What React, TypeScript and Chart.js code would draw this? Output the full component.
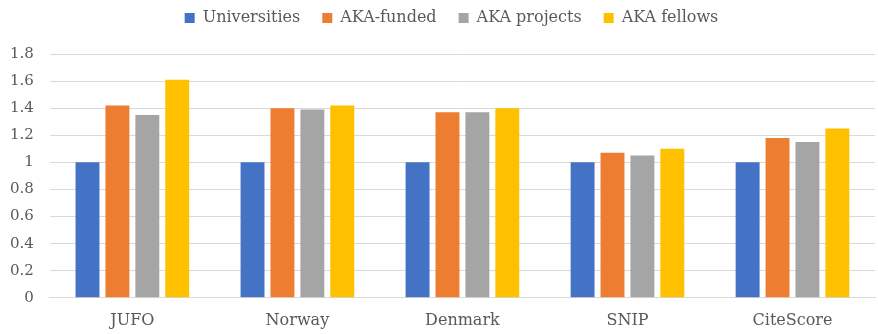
import React, { useEffect, useRef } from "react";
import { Chart, registerables } from "chart.js";

Chart.register(...registerables);

const categories = ["JUFO", "Norway", "Denmark", "SNIP", "CiteScore"];
const universities = [1.0, 1.0, 1.0, 1.0, 1.0];
const akaFunded = [1.42, 1.4, 1.37, 1.07, 1.18];
const akaProjects = [1.35, 1.39, 1.37, 1.05, 1.15];
const akaFellows = [1.61, 1.42, 1.4, 1.1, 1.25];
const seriesNames = ["Universities", "AKA-funded", "AKA projects", "AKA fellows"];
const seriesColors = ["#4472C4", "#ED7D31", "#A5A5A5", "#FFC000"];

const FONT = "DejaVu Serif";

export default function App() {
  const ref = useRef<HTMLCanvasElement | null>(null);
  useEffect(() => {
    if (!ref.current) return;
    const values = [universities, akaFunded, akaProjects, akaFellows];
    const chart = new Chart(ref.current, {
      type: "bar",
      data: {
        labels: categories,
        datasets: values.map((v, i) => ({
          label: seriesNames[i],
          data: v,
          backgroundColor: seriesColors[i],
          borderWidth: 0,
          barPercentage: 0.8,
          categoryPercentage: 0.725,
        })),
      },
      options: {
        animation: false,
        responsive: false,
        maintainAspectRatio: false,
        layout: { padding: { left: -6, right: 3, top: -12, bottom: -9 } },
        plugins: {
          tooltip: { enabled: false },
          legend: {
            position: "top",
            labels: {
              boxWidth: 10,
              boxHeight: 10,
              padding: 22,
              color: "#595959",
              font: { family: FONT, size: 16 },
            },
          },
        },
        scales: {
          x: {
            grid: { display: false, drawTicks: false },
            border: { display: true, color: "#D9D9D9", width: 1 },
            ticks: {
              color: "#595959",
              font: { family: FONT, size: 16 },
              padding: 13,
            },
          },
          y: {
            min: 0,
            max: 1.8,
            grid: { color: "#D9D9D9", lineWidth: 1, drawTicks: false },
            border: { display: false },
            ticks: {
              stepSize: 0.2,
              color: "#595959",
              font: { family: FONT, size: 15 },
              padding: 16,
              callback: (v: any) => String(Number(Number(v).toFixed(1))),
            },
          },
        },
      },
      plugins: [
        {
          id: "legendGap",
          beforeInit(c: any) {
            const orig = c.legend.fit;
            c.legend.fit = function () {
              orig.call(this);
              this.height += 18;
            };
          },
          afterLayout(c: any) {
            if (c.legend) {
              c.legend.left += 17;
              c.legend.right += 17;
            }
          },
        },
      ],
    });
    return () => chart.destroy();
  }, []);
  return (
    <div style={{ position: "fixed", left: 0, top: 0, width: 878, height: 334, background: "#fff" }}>
      <canvas ref={ref} width={878} height={334} style={{ width: 878, height: 334, display: "block" }} />
    </div>
  );
}
